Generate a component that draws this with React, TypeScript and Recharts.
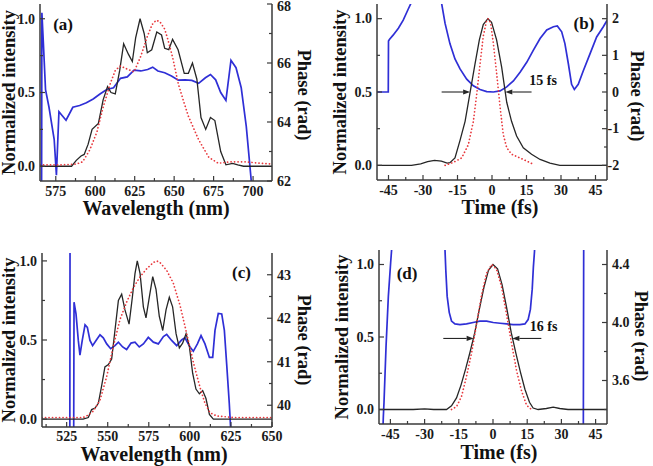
import React from 'react';
import { LineChart, Line, XAxis, YAxis, ReferenceLine, ReferenceDot } from 'recharts';

type Row = [number, number | null];

// (a) spectrum: wavelength (nm) vs normalized intensity / phase (rad)
const aSpectrum: Row[] = [
  [565, 0], [585, 0], [588, 0.04], [591, 0.07], [593, 0.08], [595.5, 0.15], [598, 0.25], [602, 0.29],
  [605, 0.45], [607.8, 0.54], [610, 0.5], [612.7, 0.49], [615.5, 0.65], [618, 0.83], [621, 0.76],
  [623.5, 0.71], [625.6, 0.87], [628.4, 1.0], [631, 0.9], [633, 0.77], [635.8, 0.79], [639, 0.91],
  [642, 0.89], [644, 0.8], [646.6, 0.79], [649, 0.86], [652.5, 0.79], [656.4, 0.63], [659, 0.63],
  [661.6, 0.7], [664.4, 0.59], [667, 0.33], [670, 0.25], [673, 0.33], [675.8, 0.31], [679.5, 0.1],
  [682.8, 0.01], [687, 0.02], [690.3, 0.01], [694, 0], [712, 0],
];
const aRetrieved: Row[] = [
  [565, 0.01], [580, 0.01], [588, 0.015], [592, 0.03], [596.5, 0.11], [601, 0.23], [605, 0.4],
  [609.5, 0.56], [612.7, 0.65], [616, 0.68], [620, 0.66], [624.6, 0.64], [629, 0.75], [633, 0.88],
  [636, 0.96], [638.6, 0.99], [641, 0.98], [644, 0.93], [646, 0.86], [649, 0.74], [652.6, 0.56],
  [656, 0.44], [659, 0.34], [665.5, 0.18], [672, 0.06], [678, 0.02], [685, 0.03], [695, 0.03],
  [705, 0.02], [712, 0.015],
];
const aPhase: Row[] = [
  [565.8, 55], [566.2, 67.7], [567.2, 66.6], [568.5, 65.1], [570.7, 64.5], [574, 63.4], [575.4, 62.2],
  [577, 64.35], [581.5, 64.06], [585.8, 64.5], [590.1, 64.56], [594.4, 64.65], [598.7, 64.78],
  [603, 64.95], [607.3, 65.1], [611.6, 65.16], [616, 65.48], [620.3, 65.53], [624.6, 65.76],
  [628.9, 65.73], [633.2, 65.78], [636.4, 65.86], [639.7, 65.73], [644, 65.67], [648.3, 65.56],
  [652.6, 65.42], [656.9, 65.43], [661.2, 65.41], [665.5, 65.31], [669.8, 65.5], [673, 65.61],
  [676.3, 65.43], [679.5, 65.0], [682.8, 64.73], [686, 66.09], [689.2, 65.84], [692.5, 65.16],
  [695.7, 63.85], [698.9, 61.98], [699.5, 61.5],
];

// (b) temporal profile: time (fs)
const bPulse: Row[] = [
  [-50, 0], [-35, 0], [-31, 0.01], [-28, 0.025], [-25, 0.034], [-22, 0.028], [-19.5, 0.015],
  [-18.3, 0.018], [-16.1, 0.05], [-13.9, 0.17], [-11.7, 0.3], [-9.6, 0.49], [-7.4, 0.69],
  [-5.5, 0.855], [-3.8, 0.96], [-1.8, 1.0], [-0.2, 0.975], [2, 0.855], [4.2, 0.67], [6.4, 0.43],
  [8.5, 0.3], [10.7, 0.2], [13.6, 0.12], [17.2, 0.076], [20.9, 0.04], [25.2, 0.015], [29.5, 0], [50, 0],
];
const bLimit: Row[] = [
  [-20.4, 0], [-16.8, 0.02], [-13.2, 0.05], [-10.3, 0.14], [-8.1, 0.3], [-6.6, 0.49], [-5.2, 0.69],
  [-3.8, 0.88], [-2.3, 0.99], [-1.6, 1.0], [-0.6, 0.97], [0.6, 0.83], [2, 0.63], [3.5, 0.4],
  [4.9, 0.21], [6.4, 0.12], [8.5, 0.076], [12.2, 0.05], [15, 0.03], [18, 0.007],
];
const bPhase: Row[] = [
  [-50, 0], [-45.1, 0], [-45.0, 1.39], [-44.6, 1.43], [-43, 1.55], [-40.7, 1.74], [-38.6, 1.96],
  [-36.5, 2.25], [-35, 2.45], [-32, 2.9], [-29, 3.0], [-25, 2.8], [-22, 2.45], [-20.4, 1.87],
  [-18.3, 1.32], [-16.1, 0.9], [-13.9, 0.63], [-11, 0.35], [-8.1, 0.17], [-5.2, 0.07], [-2.3, 0.01],
  [0.6, 0], [3.5, 0.03], [6.4, 0.14], [9.3, 0.3], [12.2, 0.54], [15.1, 0.81], [18, 1.14],
  [20.9, 1.46], [23.8, 1.69], [26.7, 1.78], [28.4, 1.8], [30.3, 1.64], [31.7, 1.32], [33.2, 0.77],
  [34.6, 0.21], [35.8, 0.07], [37.5, 0.21], [39.7, 0.58], [42.6, 1.04], [45.5, 1.5], [48.4, 1.78],
  [50, 1.95],
];

// (c) spectrum
const cSpectrum: Row[] = [
  [510, 0], [535, 0], [538.2, 0.01], [540.2, 0.06], [542.3, 0.07], [544.3, 0.1], [546.3, 0.21],
  [548.3, 0.33], [550.4, 0.345], [552.4, 0.38], [554.4, 0.56], [556.5, 0.75], [558.5, 0.79],
  [560.5, 0.69], [563, 0.6], [565, 0.77], [566.6, 0.92], [568, 1.0], [569.7, 0.92], [571.7, 0.71],
  [573.3, 0.64], [575.3, 0.77], [577.4, 0.9], [579.4, 0.82], [581.4, 0.65], [583.5, 0.56],
  [585.5, 0.69], [587.5, 0.77], [589.5, 0.71], [591.6, 0.54], [593.6, 0.45], [595.6, 0.48],
  [597.7, 0.54], [599.7, 0.46], [601.7, 0.29], [603.7, 0.19], [605.8, 0.16], [607.8, 0.18],
  [609.8, 0.13], [611.9, 0.03], [614.3, 0], [650, 0],
];
const cRetrieved: Row[] = [
  [510, 0.01], [535, 0.01], [537.2, 0.02], [541.2, 0.05], [545.3, 0.12], [549.4, 0.27], [553.4, 0.46],
  [557.5, 0.63], [561.5, 0.74], [565.6, 0.83], [569.7, 0.9], [573.7, 0.95], [577.8, 0.99],
  [579.8, 1.0], [581.8, 0.99], [585.9, 0.94], [589.9, 0.86], [594, 0.72], [598.1, 0.54],
  [602.1, 0.36], [606.2, 0.2], [609.2, 0.1], [612.3, 0.04], [616.3, 0.02], [626.5, 0.01], [650, 0.01],
];
const cPhase: Row[] = [
  [526.9, 38], [527.1, 45], [527.2, null],
  [529.2, 38], [529.5, 42.37], [530.7, 42.1], [532.1, 41.49], [533.1, 41.15], [534.5, 41.49],
  [536.2, 41.85], [537.6, 41.79], [539.2, 41.49], [540.8, 41.37], [542.9, 41.49], [545.3, 41.62],
  [547.3, 41.55], [549.4, 41.41], [551.8, 41.3], [554.4, 41.37], [556.5, 41.45], [559.1, 41.34],
  [561.5, 41.28], [564.2, 41.43], [566.6, 41.45], [569.2, 41.34], [571.7, 41.41], [574.7, 41.56],
  [577.8, 41.45], [580.8, 41.41], [583.9, 41.58], [585.9, 41.63], [588.9, 41.49], [592, 41.37],
  [595, 41.5], [597, 41.55], [600.1, 41.34], [602.1, 41.24], [604.6, 41.41], [606.8, 41.6],
  [609.2, 41.41], [611.9, 41.1], [613.9, 41.1], [615.3, 41.72], [617.3, 42.11], [619.4, 42.1],
  [621, 41.72], [622.4, 40.95], [624, 40.04], [624.8, 39.49], [625.2, 39.2],
];

// (d) temporal profile
const dPulse: Row[] = [
  [-50, 0], [-35, 0], [-30, 0.004], [-26, 0], [-20.4, 0], [-18.2, 0.025], [-16, 0.08], [-14, 0.17],
  [-12, 0.28], [-10, 0.4], [-8, 0.53], [-6, 0.69], [-4, 0.84], [-2, 0.96], [0, 1.0], [2, 0.97],
  [4, 0.86], [6, 0.7], [8, 0.53], [10, 0.39], [12, 0.26], [14, 0.14], [16, 0.05], [17.6, 0.01],
  [19.8, 0], [23.4, 0.007], [26.4, 0.016], [29.3, 0.007], [32.9, 0], [50, 0],
];
const dLimit: Row[] = [
  [-18.2, 0], [-16, 0.02], [-13.8, 0.09], [-11.6, 0.23], [-9.4, 0.39], [-7.2, 0.59], [-5, 0.79],
  [-2.8, 0.94], [-0.6, 1.0], [1.5, 0.97], [3.7, 0.85], [5.9, 0.66], [8.1, 0.46], [10.3, 0.27],
  [12.5, 0.13], [14.7, 0.03], [16.9, 0],
];
const dPhase: Row[] = [
  [-48.6, 3.1], [-48.1, 3.35], [-47.8, 3.45], [-46.9, 3.84], [-45.9, 4.18], [-44.9, 4.41], [-44, 4.6],
  [-43, null],
  [-21.3, 4.6], [-20.7, 4.36], [-20.1, 4.18], [-19.2, 4.07], [-18.2, 4.01], [-16.7, 3.99],
  [-14.5, 3.985], [-11.6, 3.99], [-8.7, 4.0], [-5.8, 4.01], [-2.8, 4.01], [0.1, 4.0], [3.1, 3.995],
  [6, 3.99], [8.8, 3.985], [11.8, 3.985], [14, 3.99], [15.4, 4.02], [16.4, 4.09], [17.2, 4.23],
  [17.7, 4.38], [18.2, 4.49], [18.5, 4.6],
  [19, null],
  [39.6, 3.1], [39.8, 4.7],
];

// axis ticks
const intTicks = [0, 0.5, 1];
const intMinor = [0.25, 0.75];
const wlTicksA = [575, 600, 625, 650, 675, 700];
const wlMinorA = [587.5, 612.5, 637.5, 662.5, 687.5];
const wlTicksC = [525, 550, 575, 600, 625, 650];
const wlMinorC = [512.5, 537.5, 562.5, 587.5, 612.5, 637.5];
const timeTicks = [-45, -30, -15, 0, 15, 30, 45];
const timeMinor = [-37.5, -22.5, -7.5, 7.5, 22.5, 37.5];
const phaseTicksA = [62, 64, 66, 68];
const phaseMinorA = [63, 65, 67];
const phaseTicksB = [-2, -1, 0, 1, 2];
const phaseMinorB = [-1.5, -0.5, 0.5, 1.5];
const phaseTicksC = [40, 41, 42, 43];
const phaseMinorC = [40.5, 41.5, 42.5];
const phaseTicksD = [3.6, 4.0, 4.4];
const phaseMinorD = [3.4, 3.8, 4.2];

const SERIF = "'Liberation Serif', 'Times New Roman', Times, serif";
const FRAME = '#3a3a3a';
const BLACK = '#262626';
const RED = '#e8383d';
const BLUE = '#2f2fd6';

const toPts = (rows: Row[]) => rows.map(([x, y]) => ({ x, y }));

const tickStyle: React.CSSProperties = { fontFamily: SERIF, fontWeight: 700, fontSize: 14 };

type Side = 'bottom' | 'top' | 'left' | 'right';

function tickRenderer(side: Side, major: number[], fmt: (v: number) => string, drop = 15) {
  return (props: any) => {
    const { x, y, payload } = props;
    const v: number = payload.value;
    const isMajor = major.some((m) => Math.abs(m - v) < 1e-6);
    const len = isMajor ? 5 : 3;
    if (side === 'bottom' || side === 'top') {
      const dir = side === 'bottom' ? -1 : 1;
      return (
        <g>
          <line x1={x} y1={y} x2={x} y2={y + dir * len} stroke={FRAME} strokeWidth={1.2} />
          {side === 'bottom' && isMajor && (
            <text x={x} y={y + drop} textAnchor="middle" fill="#1a1a1a" style={tickStyle}>{fmt(v)}</text>
          )}
        </g>
      );
    }
    const dir = side === 'left' ? 1 : -1;
    const tx = side === 'left' ? x - 5 : x + 5 - (v < 0 ? 4.5 : 0);
    // keep a label that sits on the top edge of the frame inside the svg
    const ty = Math.max(y + 4.8, 11);
    return (
      <g>
        <line x1={x} y1={y} x2={x + dir * len} y2={y} stroke={FRAME} strokeWidth={1.2} />
        {isMajor && (
          <text x={tx} y={ty} textAnchor={side === 'left' ? 'end' : 'start'} fill="#1a1a1a" style={tickStyle}>
            {fmt(v)}
          </text>
        )}
      </g>
    );
  };
}

const titleStyle = (size: number): React.CSSProperties => ({ fontFamily: SERIF, fontWeight: 700, fontSize: size });

const vTitle = (text: string, cx: number, cy: number, angle: number) => () => (
  <text x={cx} y={cy} transform={`rotate(${angle} ${cx} ${cy})`} textAnchor="middle"
    dominantBaseline="central" fill="#111" style={titleStyle(18.5)}>{text}</text>
);

const hTitle = (text: string, cx: number, baseline: number) => () => (
  <text x={cx} y={baseline} textAnchor="middle" fill="#111" style={titleStyle(20)}>{text}</text>
);

const textLabel = (text: string, size: number) => (props: any) => {
  const vb = props.viewBox || {};
  const cx = (vb.x ?? 0) + (vb.width ?? 0) / 2;
  const cy = (vb.y ?? 0) + (vb.height ?? 0) / 2;
  return (
    <text x={cx} y={cy} textAnchor="middle" dominantBaseline="central" fill="#111" style={titleStyle(size)}>{text}</text>
  );
};

const arrowShape = (props: any) => {
  const { x1, y1, x2, y2 } = props;
  const dir = Math.sign(x2 - x1) || 1;
  const head = 7;
  return (
    <g>
      <line x1={x1} y1={y1} x2={x2 - dir * head} y2={y2} stroke={BLACK} strokeWidth={1.1} />
      <polygon points={`${x2},${y2} ${x2 - dir * head},${y2 - 2.6} ${x2 - dir * head},${y2 + 2.6}`} fill={BLACK} />
    </g>
  );
};

interface PanelProps {
  left: number; top: number; width: number; height: number;
  marginTop: number; leftW: number; rightW: number; bottomH: number; tickDrop: number;
  xDomain: [number, number]; xMajor: number[]; xMinor: number[];
  iDomain: [number, number];
  pDomain: [number, number]; pMajor: number[]; pMinor: number[]; pFmt: (v: number) => string;
  main: Row[]; dotted: Row[]; phase: Row[];
  xTitle: string;
  titles: { left: [number, number]; right: [number, number]; x: [number, number] };
  tag: string; tagAt: [number, number];
  width_?: { text: string; at: [number, number]; level: number; l: [number, number]; r: [number, number] };
}

function Panel(p: PanelProps) {
  const fmt1 = (v: number) => v.toFixed(1);
  const fmtX = (v: number) => String(v);
  return (
    <div style={{ position: 'absolute', left: p.left, top: p.top }}>
      <LineChart width={p.width} height={p.height} margin={{ top: p.marginTop, right: 0, bottom: 0, left: 0 }}>
        <XAxis type="number" dataKey="x" domain={p.xDomain} allowDataOverflow ticks={[...p.xMajor, ...p.xMinor]}
          interval={0} tickSize={0} tickMargin={0} tickLine={false} height={p.bottomH}
          axisLine={{ stroke: FRAME, strokeWidth: 1.5 }} tick={tickRenderer('bottom', p.xMajor, fmtX, p.tickDrop)}
          label={hTitle(p.xTitle, p.titles.x[0], p.titles.x[1])} />
        <XAxis xAxisId="top" orientation="top" type="number" dataKey="x" domain={p.xDomain} allowDataOverflow
          ticks={[...p.xMajor, ...p.xMinor]} interval={0} tickSize={0} tickMargin={0} tickLine={false} height={0}
          axisLine={{ stroke: FRAME, strokeWidth: 1.5 }} tick={tickRenderer('top', p.xMajor, fmtX)} />
        <YAxis type="number" domain={p.iDomain} allowDataOverflow ticks={[...intTicks, ...intMinor]} interval={0}
          tickSize={0} tickMargin={0} tickLine={false} width={p.leftW}
          axisLine={{ stroke: FRAME, strokeWidth: 1.5 }} tick={tickRenderer('left', intTicks, fmt1)}
          label={vTitle('Normalized intensity', p.titles.left[0], p.titles.left[1], -90)} />
        <YAxis yAxisId="phase" orientation="right" type="number" domain={p.pDomain} allowDataOverflow
          ticks={[...p.pMajor, ...p.pMinor]} interval={0} tickSize={0} tickMargin={0} tickLine={false} width={p.rightW}
          axisLine={{ stroke: FRAME, strokeWidth: 1.5 }} tick={tickRenderer('right', p.pMajor, p.pFmt)}
          label={vTitle('Phase (rad)', p.titles.right[0], p.titles.right[1], 90)} />
        <Line yAxisId="phase" data={toPts(p.phase)} dataKey="y" type="linear" stroke={BLUE} strokeWidth={1.7}
          dot={false} activeDot={false} isAnimationActive={false} />
        <Line data={toPts(p.main)} dataKey="y" type="linear" stroke={BLACK} strokeWidth={1.3}
          dot={false} activeDot={false} isAnimationActive={false} />
        <Line data={toPts(p.dotted)} dataKey="y" type="linear" stroke={RED} strokeWidth={1.7}
          strokeDasharray="0.1 3.4" strokeLinecap="round" dot={false} activeDot={false} isAnimationActive={false} />
        <ReferenceDot x={p.tagAt[0]} y={p.tagAt[1]} r={0} stroke="none" fill="none" label={textLabel(p.tag, 17)} />
        {p.width_ && (
          <ReferenceLine segment={[{ x: p.width_.l[0], y: p.width_.level }, { x: p.width_.l[1], y: p.width_.level }]}
            shape={arrowShape} />
        )}
        {p.width_ && (
          <ReferenceLine segment={[{ x: p.width_.r[0], y: p.width_.level }, { x: p.width_.r[1], y: p.width_.level }]}
            shape={arrowShape} />
        )}
        {p.width_ && (
          <ReferenceDot x={p.width_.at[0]} y={p.width_.at[1]} r={0} stroke="none" fill="none"
            label={textLabel(p.width_.text, 14)} />
        )}
      </LineChart>
    </div>
  );
}

export default function App() {
  return (
    <div style={{ position: 'absolute', left: 0, top: 0, width: 653, height: 466, background: '#fff', overflow: 'hidden' }}>
      <Panel left={0} top={0} width={326} height={230} marginTop={4} leftW={40} rightW={54} bottomH={49} tickDrop={14.5}
        xDomain={[565, 712]} xMajor={wlTicksA} xMinor={wlMinorA} iDomain={[-0.1, 1.1]}
        pDomain={[62, 68]} pMajor={phaseTicksA} pMinor={phaseMinorA} pFmt={(v) => String(v)}
        main={aSpectrum} dotted={aRetrieved} phase={aPhase} xTitle="Wavelength (nm)"
        titles={{ left: [9, 92.5], right: [304, 95], x: [156, 215] }}
        tag="(a)" tagAt={[579.6, 0.964]} />
      <Panel left={326} top={0} width={327} height={230} marginTop={4} leftW={51} rightW={46} bottomH={50} tickDrop={14.5}
        xDomain={[-50, 50]} xMajor={timeTicks} xMinor={timeMinor} iDomain={[-0.1, 1.1]}
        pDomain={[-2.4, 2.4]} pMajor={phaseTicksB} pMinor={phaseMinorB} pFmt={(v) => String(v)}
        main={bPulse} dotted={bLimit} phase={bPhase} xTitle="Time (fs)"
        titles={{ left: [14, 92], right: [310.5, 96], x: [174, 214] }}
        tag="(b)" tagAt={[40, 0.97]}
        width_={{ text: '15 fs', at: [22.2, 0.58], level: 0.5, l: [-21.9, -9.5], r: [17.2, 5.8] }} />
      <Panel left={0} top={233} width={326} height={233} marginTop={20} leftW={42} rightW={54} bottomH={39} tickDrop={13.5}
        xDomain={[510, 650]} xMajor={wlTicksC} xMinor={wlMinorC} iDomain={[-0.05, 1.05]}
        pDomain={[39.5, 43.5]} pMajor={phaseTicksC} pMinor={phaseMinorC} pFmt={(v) => String(v)}
        main={cSpectrum} dotted={cRetrieved} phase={cPhase} xTitle="Wavelength (nm)"
        titles={{ left: [9, 107], right: [303.5, 107], x: [154, 228] }}
        tag="(c)" tagAt={[631.4, 0.924]} />
      <Panel left={326} top={233} width={327} height={233} marginTop={17} leftW={53} rightW={46} bottomH={42} tickDrop={14.5}
        xDomain={[-50, 50]} xMajor={timeTicks} xMinor={timeMinor} iDomain={[-0.1, 1.1]}
        pDomain={[3.3, 4.5]} pMajor={phaseTicksD} pMinor={phaseMinorD} pFmt={(v) => v.toFixed(1)}
        main={dPulse} dotted={dLimit} phase={dPhase} xTitle="Time (fs)"
        titles={{ left: [15.5, 104], right: [315, 103], x: [173, 226] }}
        tag="(d)" tagAt={[-37.7, 0.94]}
        width_={{ text: '16 fs', at: [22.2, 0.569], level: 0.49, l: [-21.8, -8.5], r: [21.2, 8.5] }} />
    </div>
  );
}
